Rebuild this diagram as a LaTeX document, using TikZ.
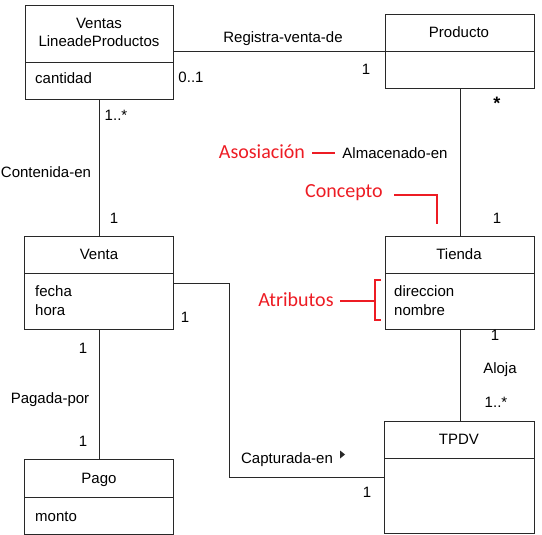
\documentclass[tikz,border=0pt]{standalone}
\usepackage{fontspec}
\setmainfont{Liberation Sans}
\newfontfamily\calib{Carlito}
\definecolor{annred}{RGB}{237,28,36}
\definecolor{ink}{RGB}{40,40,40}
\begin{document}
\begin{tikzpicture}[x=1pt,y=-1pt,
  cls/.style={draw=ink, line width=0.9pt, anchor=north west, inner sep=0pt},
  sepline/.style={draw=ink, line width=0.9pt},
  conn/.style={draw=ink, line width=0.9pt},
  lbl/.style={font=\fontsize{15}{18}\selectfont, inner sep=0pt, text height=12.5pt, text depth=2.5pt},
  annot/.style={font=\calib\fontsize{20}{24}\selectfont, text=annred, inner sep=0pt},
  annline/.style={draw=annred, line width=2.6pt}
]
\useasboundingbox (0,0) rectangle (542,535);

% class boxes
\node[cls, minimum width=148pt, minimum height=94pt] (vlp) at (25,5) {};
\node[cls, minimum width=149pt, minimum height=74pt] (prod) at (385,14) {};
\node[cls, minimum width=149pt, minimum height=93pt] (venta) at (24,236) {};
\node[cls, minimum width=149pt, minimum height=75pt] (pago) at (24,459) {};
\node[cls, minimum width=149pt, minimum height=93pt] (tienda) at (385,236) {};
\node[cls, minimum width=150pt, minimum height=112pt] (tpdv) at (384,421) {};

% separators
\draw[sepline] ([yshift=-57pt]vlp.north west) -- ([yshift=-57pt]vlp.north east);
\draw[sepline] ([yshift=-37pt]prod.north west) -- ([yshift=-37pt]prod.north east);
\draw[sepline] ([yshift=-37pt]venta.north west) -- ([yshift=-37pt]venta.north east);
\draw[sepline] ([yshift=-38pt]pago.north west) -- ([yshift=-38pt]pago.north east);
\draw[sepline] ([yshift=-37pt]tienda.north west) -- ([yshift=-37pt]tienda.north east);
\draw[sepline] ([yshift=-37pt]tpdv.north west) -- ([yshift=-37pt]tpdv.north east);

% box texts
\node[lbl] (t1) at (99,24) {Ventas};
\node[lbl] (t2) at (99,42) {LineadeProductos};
\node[lbl, anchor=west] (t3) at (35,79) {cantidad};
\node[lbl] (t4) at (459,33) {Producto};
\node[lbl] (t5) at (99,254) {Venta};
\node[lbl, anchor=west] (t6) at (35,292) {fecha};
\node[lbl, anchor=west] (t7) at (35,311) {hora};
\node[lbl] (t8) at (99,478) {Pago};
\node[lbl, anchor=west] (t9) at (35,516) {monto};
\node[lbl] (t10) at (459,254) {Tienda};
\node[lbl, anchor=west] (t11) at (394,291) {direccion};
\node[lbl, anchor=west] (t12) at (394,311) {nombre};
\node[lbl] (t13) at (459,439) {TPDV};

% connectors
\draw[conn] ([yshift=-46pt]vlp.north east) -- ([yshift=-46pt]vlp.north east -| prod.west);
\draw[conn] (vlp.south) -- (vlp.south |- venta.north);
\draw[conn] (prod.south) -- (tienda.north);
\draw[conn] (venta.south) -- (pago.north);
\draw[conn] (tienda.south) -- (tienda.south |- tpdv.north);
\draw[conn] (venta.east) -- ++(56,0) coordinate (bend) |- (tpdv.west);

% association labels
\node[lbl] (a1) at (283,38) {Registra-venta-de};
\node[lbl] (m1) at (191,78) {0..1};
\node[lbl] (m2) at (366,70) {1};
\node[lbl] (m3) at (116,116) {1..*};
\node[lbl] (a2) at (46,173) {Contenida-en};
\node[lbl] (m4) at (114,219) {1};
\node[font=\fontsize{18}{18}\selectfont\bfseries, inner sep=0pt] (m5) at (497,103) {*};
\node[lbl] (a3) at (395,154) {Almacenado-en};
\node[lbl] (m6) at (497,218) {1};
\node[lbl] (m7) at (185,318) {1};
\node[lbl] (m8) at (83,348) {1};
\node[lbl] (a4) at (50,398) {Pagada-por};
\node[lbl] (m9) at (83,441) {1};
\node[lbl] (a5) at (287,458) {Capturada-en};
\fill[ink] (340,450.5) -- (345,454.5) -- (340,458.5) -- cycle;
\node[lbl] (m10) at (495,336) {1};
\node[lbl] (a6) at (500,368) {Aloja};
\node[lbl] (m11) at (496,402) {1..*};
\node[lbl] (m12) at (367,492) {1};

% red annotations
\node[annot] (r1) at (262,152) {Asosiación};
\node[annot] (r2) at (344,193) {Concepto};
\node[annot] (r3) at (296,300) {Atributos};
\draw[annline] (312,153) -- (335,153);
\draw[annline, line join=miter] (394,195) -- (437,195) -- (437,224);
\draw[annline] (340,301) -- (375,301);
\draw[annline, line join=miter] (381,280) -- (375,280) -- (375,320) -- (381,320);
\end{tikzpicture}
\end{document}
